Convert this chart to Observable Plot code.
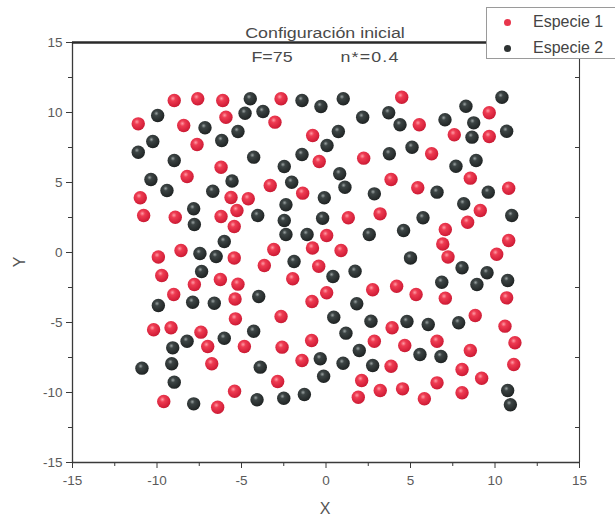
<!DOCTYPE html>
<html>
<head>
<meta charset="utf-8">
<script src="https://cdn.jsdelivr.net/npm/d3@7"></script>
<script src="https://cdn.jsdelivr.net/npm/@observablehq/plot@0.6"></script>
<style>
  html, body { margin: 0; padding: 0; background: #fff; overflow: hidden; }
  #wrap { position: relative; width: 615px; height: 521px; font-family: "Liberation Sans", Arial, sans-serif; color: #444; }
  .lbl { position: absolute; white-space: nowrap; transform: translate(-50%, -50%); }
  #legend { position: absolute; left: 486px; top: 7px; width: 140px; height: 52px; border: 1px solid #9a9a9a; background: #fff; box-sizing: border-box; }
  .lrow { position: absolute; left: 0; font-size: 16px; color: #444; }
  .ldot { position: absolute; width: 7px; height: 7px; border-radius: 50%; }
</style>
</head>
<body>
<div id="wrap">
  <div id="chart"></div>
</div>
<script>
const titleText = "Configuración inicial";
const subtitleLeft = "F=75";
const subtitleRight = "n*=0.4";
const seriesNames = ["Especie 1", "Especie 2"];
const xLabel = "X";
const yLabel = "Y";
const majorTicks = [-15, -10, -5, 0, 5, 10, 15];
const minorTicks = [-12.5, -7.5, -2.5, 2.5, 7.5, 12.5];

const especie1 = [
[-8.98,10.86],[-7.59,10.98],[-6.11,10.86],[-5.92,9.66],[-11.11,9.19],[-8.42,9.07],[-7.63,7.71],[-6.21,6.09],[-8.22,5.43],[-10.99,3.91],
[-5.62,3.93],[-5.27,3.0],[-10.79,2.64],[-8.92,2.52],[-6.21,2.57],[-5.43,1.86],[-9.92,-0.32],[-8.58,0.14],[-5.43,-0.39],[-2.66,10.98],
[4.48,11.09],[-3.02,9.31],[-0.79,8.36],[-0.40,6.5],[2.23,6.74],[3.85,5.21],[-3.30,4.79],[-1.38,4.24],[-4.60,3.84],[1.32,2.48],
[3.20,2.76],[0.04,1.21],[-3.09,0.21],[-0.80,0.32],[0.89,0.14],[9.66,9.98],[5.52,9.12],[7.59,8.41],[9.66,8.29],[6.25,7.05],
[8.54,5.31],[5.43,4.62],[10.81,4.59],[9.13,3.0],[8.38,2.16],[7.06,1.64],[6.91,0.61],[10.81,0.86],[7.22,-0.32],[10.10,-0.13],
[-9.72,-1.64],[-6.25,-1.93],[-7.79,-2.29],[-5.21,-2.26],[-9.01,-3.0],[-5.38,-3.32],[-5.36,-4.74],[-10.20,-5.52],[-9.17,-5.38],[-7.40,-5.69],
[-7.0,-6.71],[-6.76,-7.95],[-5.41,-9.91],[-9.60,-10.64],[-6.41,-11.05],[-3.65,-0.93],[-0.43,-0.98],[-1.97,-1.88],[0.04,-2.88],[2.76,-2.66],
[4.18,-2.41],[-0.83,-3.5],[-2.66,-4.57],[3.91,-5.38],[-4.83,-6.71],[-2.60,-6.76],[-0.85,-6.29],[2.86,-6.34],[4.66,-6.64],[-1.42,-7.71],
[3.85,-8.12],[-2.86,-9.21],[2.11,-9.14],[3.21,-9.86],[4.53,-9.74],[1.91,-10.34],[5.33,-3.0],[7.06,-3.26],[10.69,-3.24],[8.83,-4.5],
[10.59,-5.26],[6.57,-6.34],[11.18,-6.45],[8.54,-7.0],[8.05,-8.36],[11.11,-8.0],[9.21,-8.98],[6.57,-9.31],[8.05,-10.02],[5.82,-10.45]
];

const especie2 = [
[-9.96,9.79],[-7.16,8.91],[-5.21,8.64],[-10.25,7.93],[-6.17,8.0],[-11.11,7.16],[-8.98,6.57],[-10.36,5.21],[-5.56,5.11],[-9.41,4.43],
[-6.70,4.38],[-7.83,3.12],[-7.79,2.0],[-6.02,0.79],[-7.46,-0.07],[-6.50,-0.29],[-4.48,10.98],[-1.42,10.86],[-0.30,10.43],[1.02,10.98],
[-4.79,9.95],[-3.73,10.07],[2.17,9.66],[3.71,9.98],[4.38,9.12],[0.73,8.64],[0.06,7.64],[-4.28,6.81],[-1.42,7.0],[3.75,7.05],
[5.09,7.52],[-2.47,6.14],[0.81,5.62],[-2.03,5.02],[1.12,4.66],[-0.10,3.91],[2.86,4.19],[-2.37,3.41],[-4.04,2.64],[-2.47,2.29],
[-0.20,2.45],[-2.37,1.29],[-1.12,1.29],[2.56,1.29],[4.59,1.57],[-1.89,-0.64],[5.0,-0.39],[10.41,11.09],[8.28,10.45],[7.04,9.48],
[8.74,9.26],[8.64,8.24],[10.69,8.66],[7.69,6.16],[8.88,6.57],[6.57,4.31],[9.60,4.31],[8.15,3.48],[5.74,2.48],[10.99,2.64],
[-7.36,-1.36],[-9.92,-3.79],[-7.89,-3.55],[-6.61,-3.62],[-8.22,-6.34],[-6.02,-6.12],[-9.07,-6.81],[-10.89,-8.26],[-9.13,-7.95],[-8.98,-9.26],
[-7.83,-10.81],[0.41,-1.71],[1.72,-1.34],[-3.98,-3.14],[1.82,-3.66],[0.46,-4.62],[2.66,-4.91],[4.79,-4.93],[-4.28,-5.62],[1.18,-5.76],
[1.97,-7.0],[-0.34,-7.59],[1.01,-7.91],[2.76,-8.07],[-3.89,-8.19],[-0.14,-8.84],[-1.28,-10.14],[-2.50,-10.41],[-4.08,-10.52],[8.05,-1.09],
[9.53,-1.45],[6.85,-2.12],[8.93,-2.29],[10.75,-2.0],[6.05,-5.14],[7.85,-5.02],[5.56,-7.29],[6.80,-7.43],[10.75,-9.86],[10.91,-10.88]
];

const W = 615, H = 521;
const mL = 72, mR = 36, mT = 42, mB = 59;
const axisColor = "#3a3a3a";
const fmt = d => String(d);

const chart = Plot.plot({
  width: W, height: H,
  marginLeft: mL, marginRight: mR, marginTop: mT, marginBottom: mB,
  x: { domain: [-15, 15] },
  y: { domain: [-15, 15] },
  style: { fontFamily: "'Liberation Sans', Arial, sans-serif", fontSize: "13.5px", color: "#5a5a5a", background: "white", overflow: "visible" },
  marks: [
    Plot.axisX({ ticks: majorTicks, tickSize: 6, tickPadding: 7, tickFormat: fmt, label: null, stroke: axisColor }),
    Plot.axisX({ ticks: minorTicks, tickSize: 4, tickFormat: () => "", label: null, stroke: axisColor }),
    Plot.axisY({ ticks: majorTicks, tickSize: 6, tickPadding: 4, tickFormat: fmt, label: null, stroke: axisColor }),
    Plot.axisY({ ticks: minorTicks, tickSize: 4, tickFormat: () => "", label: null, stroke: axisColor }),
    Plot.tickY(minorTicks, { y: d => d, insetLeft: W - mL - mR - 4, stroke: axisColor }),
    Plot.ruleX([-15], { stroke: axisColor, strokeWidth: 1.3 }),
    Plot.ruleY([-15], { stroke: axisColor, strokeWidth: 1.3 }),
    Plot.ruleX([15], { stroke: axisColor, strokeWidth: 1.1 }),
    Plot.ruleY([15], { stroke: "#2a2a2a", strokeWidth: 2.6 }),
    Plot.dot(especie1, { x: d => d[0], y: d => d[1], r: 6.7, fill: "url(#sphRed)" }),
    Plot.dot(especie2, { x: d => d[0], y: d => d[1], r: 6.7, fill: "url(#sphBlack)" })
  ]
});

const svgNS = "http://www.w3.org/2000/svg";
const defs = document.createElementNS(svgNS, "defs");
defs.innerHTML = `
  <radialGradient id="sphRed" cx="0.4" cy="0.35" r="0.7">
    <stop offset="0" stop-color="#ff9aa4"/>
    <stop offset="0.28" stop-color="#ee3c52"/>
    <stop offset="0.8" stop-color="#d5203a"/>
    <stop offset="1" stop-color="#c01a30"/>
  </radialGradient>
  <radialGradient id="sphBlack" cx="0.4" cy="0.35" r="0.7">
    <stop offset="0" stop-color="#9aa2a2"/>
    <stop offset="0.25" stop-color="#3c4444"/>
    <stop offset="0.8" stop-color="#252a2a"/>
    <stop offset="1" stop-color="#1a1d1d"/>
  </radialGradient>`;
chart.insertBefore(defs, chart.firstChild);
document.getElementById("chart").appendChild(chart);

const wrap = document.getElementById("wrap");
function addLabel(text, x, y, size, extra) {
  const el = document.createElement("div");
  el.className = "lbl";
  el.textContent = text;
  el.style.left = x + "px";
  el.style.top = y + "px";
  el.style.fontSize = size + "px";
  if (extra) Object.assign(el.style, extra);
  wrap.appendChild(el);
  return el;
}
const stretch = "translate(-50%, -50%) scaleX(1.15)";
addLabel(titleText, 325, 33, 15.5, { color: "#4a4a4a", transform: stretch });
addLabel(subtitleLeft, 272, 57, 15.5, { color: "#4a4a4a", transform: stretch });
addLabel(subtitleRight, 370, 57, 15.5, { color: "#4a4a4a", transform: stretch, letterSpacing: "1px" });
addLabel(xLabel, 325, 509, 16, { color: "#555" });
addLabel(yLabel, 20, 262, 16, { color: "#555", transform: "translate(-50%, -50%) rotate(-90deg)" });

const legend = document.createElement("div");
legend.id = "legend";
const legendColors = ["#e8364c", "#2e3333"];
seriesNames.forEach((name, i) => {
  const dot = document.createElement("div");
  dot.className = "ldot";
  dot.style.left = "17px";
  dot.style.top = (11 + i * 26) + "px";
  dot.style.background = legendColors[i];
  legend.appendChild(dot);
  const t = document.createElement("div");
  t.className = "lrow";
  t.textContent = name;
  t.style.left = "46px";
  t.style.top = (5 + i * 26) + "px";
  legend.appendChild(t);
});
wrap.appendChild(legend);
</script>
</body>
</html>
